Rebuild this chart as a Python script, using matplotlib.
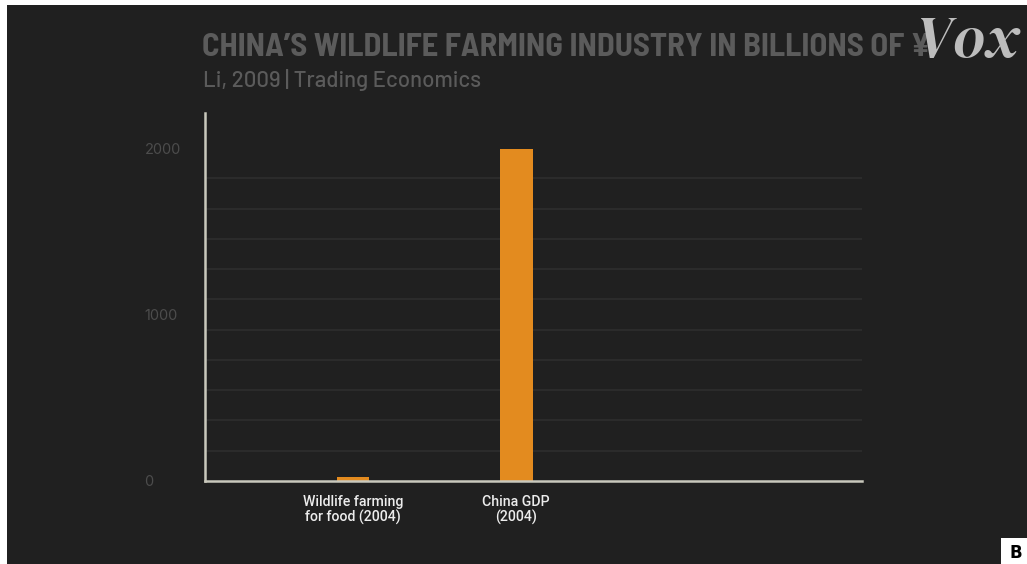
import numpy as np
import matplotlib
matplotlib.use("Agg")
import matplotlib.pyplot as plt
from matplotlib.ticker import FixedLocator
from matplotlib.patches import Rectangle

categories = ["Wildlife farming\nfor food (2004)", "China GDP\n(2004)"]
values = [22, 1995]
ytick_values = [0, 1000, 2000]
ytick_labels = ["0", "1000", "2000"]
title = "CHINA\u2019S WILDLIFE FARMING INDUSTRY IN BILLIONS OF \u00a5"
subtitle = "Li, 2009 | Trading Economics"

BG = "#202020"
BAR = "#e38b1f"
AXIS = "#c9c8bc"
GRID = "#2e2e2e"
TICK = "#4c4c4c"
TITLE = "#5b5b5b"

TITLE_FONT = ["Barlow Semi Condensed", "Barlow Condensed", "DejaVu Sans"]
SUB_FONT = ["Barlow", "Barlow Semi Condensed", "DejaVu Sans"]
SERIF = ["DM Serif Display", "Playfair Display", "Liberation Serif"]

W, H = 1027, 564
fig = plt.figure(figsize=(W / 100, H / 100), dpi=100, facecolor=BG)
# white scan border on the left and top
fig.patches.append(Rectangle((0, 0), 7 / W, 1, transform=fig.transFigure,
                             facecolor="white", edgecolor="none", zorder=5))
fig.patches.append(Rectangle((0, 1 - 5 / H), 1, 5 / H, transform=fig.transFigure,
                             facecolor="white", edgecolor="none", zorder=5))

ax = fig.add_axes([205 / W, 1 - 481 / H, (862 - 205) / W, (481 - 113) / H])
ax.set_facecolor(BG)

x = np.arange(len(categories))
ax.bar(x, values, width=0.2, color=BAR, zorder=3)

ax.set_xlim(-0.908, 3.12)
ax.set_ylim(0, 2211)

ax.set_yticks(ytick_values)
ax.set_yticklabels(ytick_labels)
ax.yaxis.set_minor_locator(FixedLocator(np.linspace(0, 2000, 12)[1:]))
ax.grid(which="minor", axis="y", color=GRID, linewidth=1.2, zorder=0)
ax.grid(which="major", visible=False)
ax.tick_params(axis="y", which="both", length=0, pad=43.5, labelcolor=TICK,
               labelsize=10.5)
for lbl in ax.get_yticklabels():
    lbl.set_horizontalalignment("left")
    lbl.set_fontfamily("Inter")

ax.set_xticks(x)
ax.set_xticklabels(categories)
ax.tick_params(axis="x", length=0, pad=10, labelcolor="#ececec", labelsize=10.2)
for lbl in ax.get_xticklabels():
    lbl.set_fontfamily("Roboto")
    lbl.set_fontweight("medium")
    lbl.set_linespacing(1.1)

for s in ["top", "right"]:
    ax.spines[s].set_visible(False)
for s in ["left", "bottom"]:
    ax.spines[s].set_color(AXIS)
    ax.spines[s].set_linewidth(1.8)
    ax.spines[s].set_zorder(4)

fig.text(202 / W, 1 - 56 / H, title, color=TITLE, fontsize=23.5,
         fontfamily=TITLE_FONT, fontweight="bold",
         ha="left", va="baseline")
fig.text(203 / W, 1 - 87 / H, subtitle, color=TITLE, fontsize=16,
         fontfamily=SUB_FONT, fontweight="medium",
         ha="left", va="baseline")

fig.text(1018 / W, 1 - 58 / H, "Vox", color="#bdbdbd", fontsize=44,
         fontfamily=SERIF, fontstyle="italic",
         ha="right", va="baseline")

fig.patches.append(Rectangle((1001 / W, 0), 26 / W, 26 / H,
                             transform=fig.transFigure, facecolor="white",
                             edgecolor="none", zorder=5))
fig.text(1015.5 / W, 1 - 553 / H, "B", color="black", fontsize=12,
         fontfamily="DejaVu Sans", fontweight="bold", ha="center", va="center",
         zorder=6)

fig.savefig("out.png", dpi=100, facecolor=BG)
